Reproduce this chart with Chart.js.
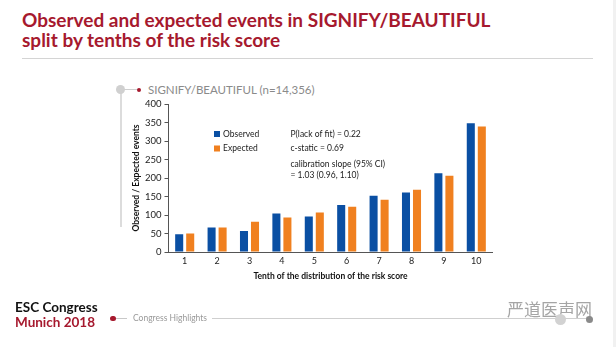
<!DOCTYPE html>
<html>
<head>
<meta charset="utf-8">
<script src="https://cdn.jsdelivr.net/npm/chart.js@4.4.1/dist/chart.umd.min.js"></script>
<style>
  html, body { margin: 0; padding: 0; background: #fff; }
  body { width: 616px; height: 347px; position: relative; overflow: hidden; font-family: Lato, "Open Sans", sans-serif; }
  .abs { position: absolute; white-space: nowrap; line-height: 1; }
  #chart-wrap { position: absolute; left: 0; top: 0; width: 616px; height: 347px; }
  .title { color: #a6192e; font-weight: bold; font-size: 19px; left: 22px; }
  .rule { position: absolute; height: 1px; background: #d4d4d4; }
  .dot { position: absolute; border-radius: 50%; }
</style>
</head>
<body>
<div class="abs title" style="top:9.5px">Observed and expected events in SIGNIFY/BEAUTIFUL</div>
<div class="abs title" style="top:30px">split by tenths of the risk score</div>
<div class="rule" style="left:22px; top:58px; width:571px;"></div>

<!-- subtitle bullet -->
<div class="rule" style="left:120px; top:89px; width:18px; background:#cfcfcf"></div>
<div class="rule" style="left:120px; top:89px; width:1.5px; height:138px; background:#dcdcdc"></div>
<div class="dot" style="left:116px; top:84.5px; width:9px; height:9px; background:#d0d0d0"></div>
<div class="dot" style="left:136.5px; top:87.5px; width:4px; height:4px; background:#a6192e"></div>
<div class="abs" style="left:148px; top:84px; font-size:11.5px; color:#8a8a8a;">SIGNIFY/BEAUTIFUL (n=14,356)</div>

<div id="chart-wrap"><canvas id="myChart" width="616" height="347"></canvas></div>

<!-- footer -->
<div class="abs" style="left:15px; top:301px; font-size:13.5px; font-weight:bold; color:#111;">ESC Congress</div>
<div class="abs" style="left:15px; top:316px; font-size:13.5px; font-weight:bold; color:#a6192e;">Munich 2018</div>
<div class="dot" style="left:110px; top:315.5px; width:5.5px; height:5.5px; background:#a6192e"></div>
<div class="rule" style="left:116px; top:318px; width:11px; background:#c8c8c8"></div>
<div class="abs" style="left:133px; top:314px; font-size:8.5px; color:#999;">Congress Highlights</div>
<div class="rule" style="left:212px; top:318px; width:377px; background:#cfcfcf"></div>
<div class="abs" style="left:507px; top:300px; font-size:17px; color:#a5a5a5; font-family:'Noto Sans CJK SC', sans-serif;">严道医声网</div>
<div class="dot" style="left:554.5px; top:313.5px; width:11px; height:11px; background:#d2d2d2"></div>
<div class="dot" style="left:586px; top:315.5px; width:7px; height:7px; background:#8a8a8a"></div>
<div style="position:absolute; left:613px; top:0; width:3px; height:347px; background:#f1f1f1"></div>

<script>
// --- DATA ---
const categories = ['1', '2', '3', '4', '5', '6', '7', '8', '9', '10'];
const observed = [48, 66, 57, 104, 96, 127, 152, 161, 213, 348];
const expected = [50, 66, 82, 93, 107, 122, 141, 168, 206, 339];
const seriesNames = ['Observed', 'Expected'];
const yTickValues = [0, 50, 100, 150, 200, 250, 300, 350, 400];
const statLines = ['P(lack of fit) = 0.22', 'c-static = 0.69', 'calibration slope (95% CI)', '= 1.03 (0.96, 1.10)'];

const BLUE = '#0a4fa3';
const ORANGE = '#f0801f';

// legend + stats drawn inside the plot
const notesPlugin = {
    id: 'notes',
    afterDraw(chart) {
        const ctx = chart.ctx;
        ctx.save();
        ctx.font = '8.5px Lato';
        ctx.textBaseline = 'middle';
        chart.data.datasets.forEach((ds, i) => {
            const y = 134 + i * 14.5;
            ctx.fillStyle = ds.backgroundColor;
            ctx.fillRect(214, y - 3, 6, 6);
            ctx.fillStyle = '#222';
            ctx.fillText(ds.label, 223, y);
        });
        const ys = [134, 148.5, 164, 175];
        statLines.forEach((t, i) => ctx.fillText(t, 290.5, ys[i]));
        ctx.restore();
    }
};

const ctx = document.getElementById('myChart').getContext('2d');
new Chart(ctx, {
    type: 'bar',
    data: {
        labels: categories,
        datasets: [
            { label: seriesNames[0], data: observed, backgroundColor: BLUE },
            { label: seriesNames[1], data: expected, backgroundColor: ORANGE }
        ]
    },
    options: {
        responsive: false, animation: false,
        layout: { padding: { left: 126, top: 104, right: 123.5, bottom: 0 } },
        datasets: { bar: { categoryPercentage: 0.68, barPercentage: 0.73 } },
        scales: {
            x: {
                afterFit: (s) => { s.height = 95; },
                grid: { display: false, drawTicks: false },
                border: { display: true, color: '#555', width: 1 },
                ticks: { color: '#222', font: { family: 'Lato', size: 9 }, padding: 4 },
                title: { display: true, text: 'Tenth of the distribution of the risk score', color: '#111',
                    font: { family: 'Lato', size: 8.5, weight: 'bold' }, padding: { top: 0, bottom: 66 } }
            },
            y: {
                min: 0, max: 400,
                afterFit: (s) => { s.width = 42.5; },
                afterBuildTicks: (s) => { s.ticks = yTickValues.map(v => ({ value: v })); },
                grid: { drawOnChartArea: false, drawTicks: true, tickLength: 4, color: '#555' },
                border: { display: true, color: '#555', width: 1 },
                ticks: { color: '#222', font: { family: 'Lato', size: 9.5 }, padding: 3 },
                title: { display: true, text: 'Observed / Expected events', color: '#111',
                    font: { family: 'Lato', size: 8.5, weight: 'bold' }, padding: { top: 5, bottom: 0 } }
            }
        },
        plugins: { legend: { display: false }, tooltip: { enabled: false } }
    },
    plugins: [notesPlugin]
});
</script>
</body>
</html>
